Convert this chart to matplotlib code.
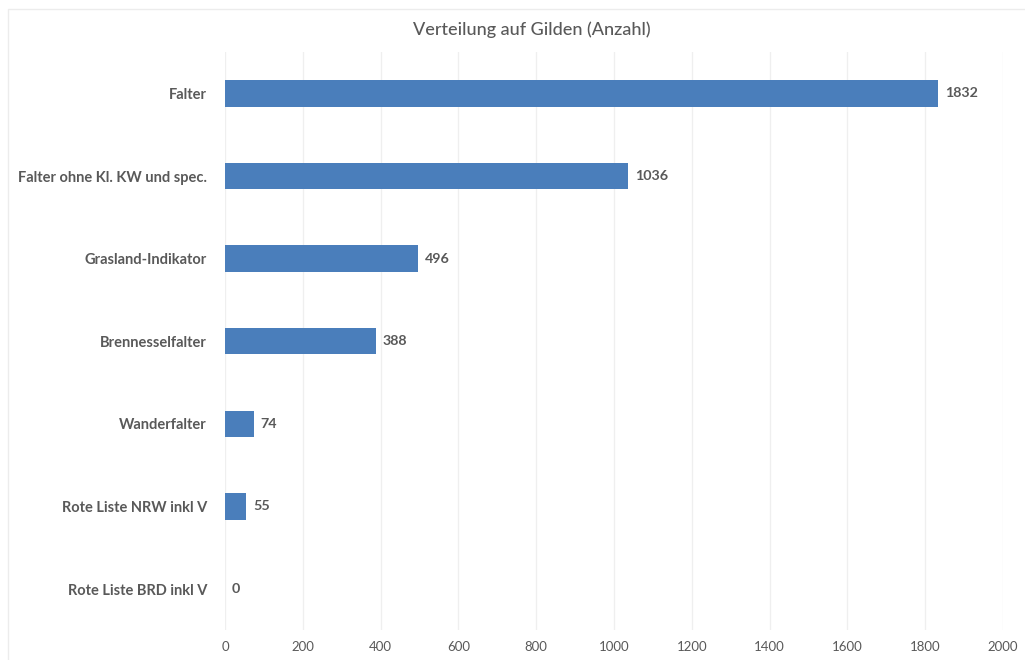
import matplotlib.pyplot as plt
from matplotlib.patches import Rectangle

# Gilden und Anzahl der Falter
gilden = ["Falter", "Falter ohne Kl. KW und spec.", "Grasland-Indikator",
          "Brennesselfalter", "Wanderfalter", "Rote Liste NRW inkl V",
          "Rote Liste BRD inkl V"]
anzahl = [1832, 1036, 496, 388, 74, 55, 0]
xticks = [0, 200, 400, 600, 800, 1000, 1200, 1400, 1600, 1800, 2000]

plt.rcParams['font.family'] = ['Lato', 'DejaVu Sans']
txt = '#595959'

fig = plt.figure(figsize=(10.25, 6.6), dpi=100)
fig.patches.append(Rectangle((0.008, -0.01), 1.2, 0.997, transform=fig.transFigure,
                             fill=False, edgecolor='#ececec', lw=1))
ax = fig.add_axes([0.2195, 0.045, 0.759, 0.876])

y = list(range(len(gilden)))
ax.barh(y, anzahl, height=0.32, color='#4a7ebb', zorder=2)
for yi, v in zip(y, anzahl):
    ax.text(v + 18, yi, str(v), va='center', ha='left', fontsize=10.3,
            fontweight='bold', color=txt)

ax.set_yticks(y)
ax.set_yticklabels(gilden, fontsize=10.5, fontweight='bold', color=txt)
ax.set_ylim(6.5, -0.5)
ax.set_xlim(0, 2000)
ax.set_xticks(xticks)
ax.set_xticklabels([str(t) for t in xticks], fontsize=9.5, color=txt)
ax.tick_params(axis='both', length=0)
ax.tick_params(axis='y', pad=13)
ax.tick_params(axis='x', pad=8)
ax.grid(axis='x', color='#efefef', lw=0.9, zorder=0)
for s in ax.spines.values():
    s.set_visible(False)

fig.text(0.5185, 0.955, "Verteilung auf Gilden (Anzahl)", ha='center', va='center',
         fontsize=13, fontweight='medium', color=txt)

fig.savefig("out.png", dpi=100, facecolor='white')
